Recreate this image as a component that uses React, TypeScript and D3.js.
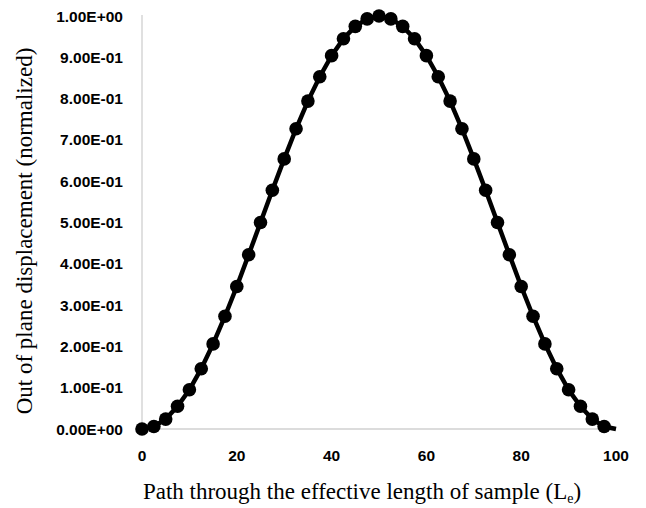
import React from "react";
import * as d3 from "d3";

const xValues = [
  0, 2.5, 5, 7.5, 10, 12.5, 15, 17.5, 20, 22.5, 25, 27.5, 30, 32.5, 35, 37.5, 40,
  42.5, 45, 47.5, 50, 52.5, 55, 57.5, 60, 62.5, 65, 67.5, 70, 72.5, 75, 77.5, 80,
  82.5, 85, 87.5, 90, 92.5, 95, 97.5, 100,
];
const yValues = [
  0, 0.006, 0.024, 0.055, 0.095, 0.146, 0.206, 0.273, 0.345, 0.422, 0.5, 0.578,
  0.654, 0.727, 0.794, 0.853, 0.904, 0.945, 0.975, 0.993, 1.0, 0.993, 0.975,
  0.945, 0.904, 0.853, 0.794, 0.727, 0.654, 0.578, 0.5, 0.422, 0.345, 0.273,
  0.206, 0.146, 0.095, 0.055, 0.024, 0.006, 0,
];
// the final point (x = 100) is drawn without a marker in the reference
const markerCount = 40;
const xTicks = [0, 20, 40, 60, 80, 100];
const yTicks = [0, 0.1, 0.2, 0.3, 0.4, 0.5, 0.6, 0.7, 0.8, 0.9, 1.0];
const yTickLabels = [
  "0.00E+00", "1.00E-01", "2.00E-01", "3.00E-01", "4.00E-01", "5.00E-01",
  "6.00E-01", "7.00E-01", "8.00E-01", "9.00E-01", "1.00E+00",
];
const xTitle = "Path through the effective length of sample (L";
const xTitleSub = "e";
const yTitle = "Out of plane displacement (normalized)";

export default function App() {
  const W = 646;
  const H = 508;
  const x = d3.scaleLinear().domain([0, 100]).range([142, 616]);
  const y = d3.scaleLinear().domain([0, 1]).range([429, 16]);
  const pts = xValues.map((v, i) => [v, yValues[i]] as [number, number]);
  const line = d3
    .line<[number, number]>()
    .x((d) => x(d[0]))
    .y((d) => y(d[1]));
  const tickFont = "'Liberation Sans', Arial, sans-serif";
  const titleFont = "'Liberation Serif', 'Times New Roman', serif";
  return (
    <svg
      width={W}
      height={H}
      style={{ position: "absolute", left: 0, top: 0, background: "#fff" }}
    >
      <rect width={W} height={H} fill="#fff" />
      <line x1={x(0)} x2={x(0)} y1={15} y2={y(0)} stroke="#d0d0d0" strokeWidth={1.3} />
      <line x1={x(0)} x2={x(100)} y1={y(0)} y2={y(0)} stroke="#d0d0d0" strokeWidth={1.3} />
      {yTicks.map((t, i) => (
        <text
          key={"y" + i}
          x={123}
          y={y(t)}
          dy="0.36em"
          textAnchor="end"
          fontFamily={tickFont}
          fontWeight={700}
          fontSize={15.5}
          fill="#000"
        >
          {yTickLabels[i]}
        </text>
      ))}
      {xTicks.map((t, i) => (
        <text
          key={"x" + i}
          x={x(t)}
          y={461}
          textAnchor="middle"
          fontFamily={tickFont}
          fontWeight={700}
          fontSize={15.5}
          fill="#000"
        >
          {t}
        </text>
      ))}
      <path d={line(pts) || ""} fill="none" stroke="#000" strokeWidth={4.5} />
      {pts.slice(0, markerCount).map((d, i) => (
        <circle key={"m" + i} cx={x(d[0])} cy={y(d[1])} r={6.8} fill="#000" />
      ))}
      <text
        x={362}
        y={499}
        textAnchor="middle"
        fontFamily={titleFont}
        fontSize={23}
        fill="#000"
      >
        {xTitle}
        <tspan fontSize={14} dy={4}>
          {xTitleSub}
        </tspan>
        <tspan dy={-4}>)</tspan>
      </text>
      <text
        transform={`translate(32,231) rotate(-90)`}
        textAnchor="middle"
        fontFamily={titleFont}
        fontSize={23}
        fill="#000"
      >
        {yTitle}
      </text>
    </svg>
  );
}
